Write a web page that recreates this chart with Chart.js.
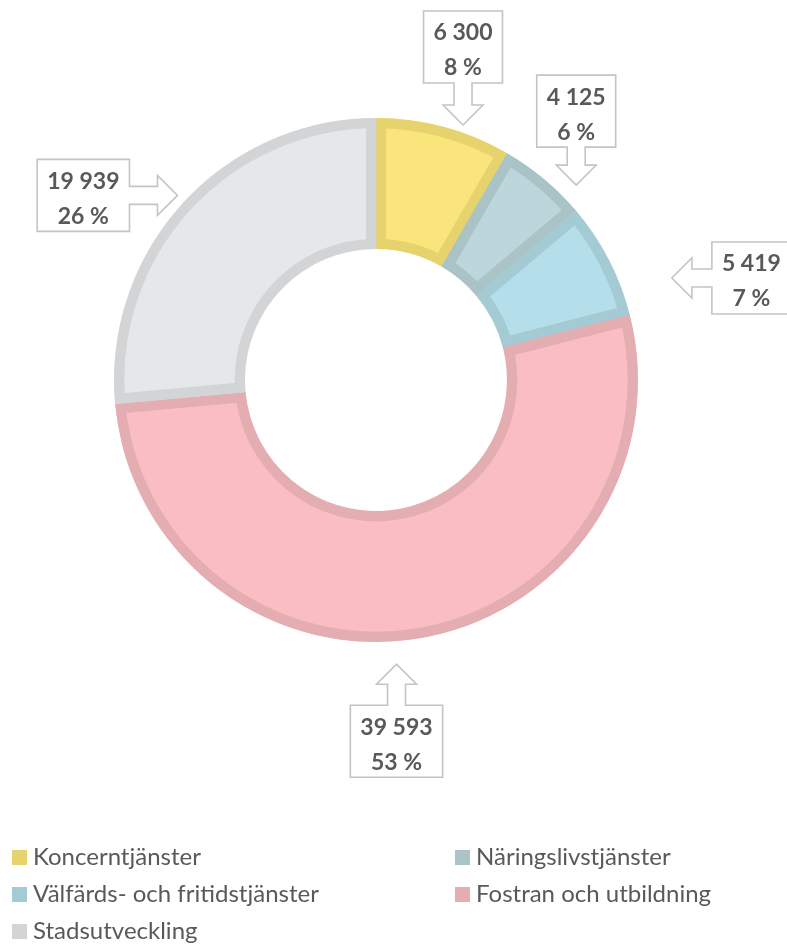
<!DOCTYPE html>
<html><head><meta charset="utf-8">
<script src="https://cdn.jsdelivr.net/npm/chart.js@4.4.1/dist/chart.umd.min.js"></script>
<style>html,body{margin:0;padding:0;background:#fff;overflow:hidden}canvas{display:block}</style>
</head><body>
<canvas id="c" width="787" height="946"></canvas>
<script>
// ---- data ----
const categories = ['Koncerntjänster', 'Näringslivstjänster', 'Välfärds- och fritidstjänster', 'Fostran och utbildning', 'Stadsutveckling'];
const values = [6300, 4125, 5419, 39593, 19939];
const percentLabels = ['8 %', '6 %', '7 %', '53 %', '26 %'];

// ---- styles ----
const fillColors = ['#FAE47C', '#BCD6DB', '#B4DEE9', '#F9BDC2', '#E6E7E9'];
const edgeColors = ['#E6D36E', '#A9C3C7', '#A4CAD3', '#E4ADB2', '#D3D4D6'];
const textColor = '#595959';
// callout placement: arrow direction, nudge of tip from slice mid-point on outer edge, arrow length
const calloutPlacement = [
  {dir: 'down', dx: 19, dy: -2, len: 42},
  {dir: 'down', dx: 32, dy: 6, len: 38},
  {dir: 'left', dx: 63, dy: 18, len: 40},
  {dir: 'up', dx: -24, dy: 26, len: 41},
  {dir: 'right', dx: -5, dy: -8, len: 48}
];

function fmt(v) { return String(v).replace(/\B(?=(\d{3})+(?!\d))/g, ' '); }

const calloutPlugin = {
  id: 'callouts',
  afterDatasetsDraw(chart) {
    const ctx = chart.ctx;
    const meta = chart.getDatasetMeta(0);
    ctx.save();
    ctx.font = 'bold 23px Lato';
    meta.data.forEach((arc, i) => {
      const p = calloutPlacement[i];
      const {x, y, startAngle, endAngle, outerRadius} = arc.getProps(['x', 'y', 'startAngle', 'endAngle', 'outerRadius'], true);
      const mid = (startAngle + endAngle) / 2;
      const tx = x + Math.cos(mid) * outerRadius + p.dx;
      const ty = y + Math.sin(mid) * outerRadius + p.dy;
      const lines = [fmt(values[i]), percentLabels[i]];
      const tw = Math.max(...lines.map(l => ctx.measureText(l).width));
      const bw = tw + 20, bh = 72;
      const L = p.len, hl = 20, hw = 20, sw = 9;
      let bx, by, pts;
      if (p.dir === 'down') {
        bx = tx - bw / 2; by = ty - L - bh;
        pts = [[bx, by], [bx + bw, by], [bx + bw, by + bh], [tx + sw, by + bh], [tx + sw, ty - hl], [tx + hw, ty - hl], [tx, ty], [tx - hw, ty - hl], [tx - sw, ty - hl], [tx - sw, by + bh], [bx, by + bh]];
      } else if (p.dir === 'up') {
        bx = tx - bw / 2; by = ty + L;
        pts = [[bx, by + bh], [bx, by], [tx - sw, by], [tx - sw, ty + hl], [tx - hw, ty + hl], [tx, ty], [tx + hw, ty + hl], [tx + sw, ty + hl], [tx + sw, by], [bx + bw, by], [bx + bw, by + bh]];
      } else if (p.dir === 'left') {
        bx = tx + L; by = ty - bh / 2;
        pts = [[bx, by], [bx + bw, by], [bx + bw, by + bh], [bx, by + bh], [bx, ty + sw], [tx + hl, ty + sw], [tx + hl, ty + hw], [tx, ty], [tx + hl, ty - hw], [tx + hl, ty - sw], [bx, ty - sw]];
      } else {
        bx = tx - L - bw; by = ty - bh / 2;
        pts = [[bx, by], [bx + bw, by], [bx + bw, ty - sw], [tx - hl, ty - sw], [tx - hl, ty - hw], [tx, ty], [tx - hl, ty + hw], [tx - hl, ty + sw], [bx + bw, ty + sw], [bx + bw, by + bh], [bx, by + bh]];
      }
      ctx.beginPath();
      pts.forEach((pt, k) => k ? ctx.lineTo(pt[0], pt[1]) : ctx.moveTo(pt[0], pt[1]));
      ctx.closePath();
      ctx.fillStyle = '#FFFFFF';
      ctx.fill();
      ctx.lineWidth = 1.6;
      ctx.strokeStyle = '#C4C4C4';
      ctx.stroke();
      ctx.fillStyle = textColor;
      ctx.textAlign = 'center';
      ctx.textBaseline = 'middle';
      ctx.fillText(lines[0], bx + bw / 2, by + 22);
      ctx.fillText(lines[1], bx + bw / 2, by + 57);
    });
    ctx.restore();
  }
};

const legendPlugin = {
  id: 'gridLegend',
  afterDraw(chart) {
    const ctx = chart.ctx;
    const colX = [12, 455];
    const rowY = [857, 894, 931];
    ctx.save();
    ctx.font = '24px Lato';
    ctx.textBaseline = 'middle';
    ctx.textAlign = 'left';
    chart.data.labels.forEach((lab, i) => {
      const cx = colX[i % 2], cy = rowY[Math.floor(i / 2)];
      ctx.fillStyle = edgeColors[i];
      ctx.fillRect(cx, cy - 7, 15, 15);
      ctx.fillStyle = textColor;
      ctx.fillText(lab, cx + 21, cy);
    });
    ctx.restore();
  }
};

new Chart(document.getElementById('c'), {
  type: 'doughnut',
  data: {
    labels: categories,
    datasets: [{
      data: values,
      backgroundColor: fillColors,
      borderColor: edgeColors,
      borderWidth: 10,
      borderAlign: 'inner',
      hoverOffset: 0
    }]
  },
  options: {
    responsive: false,
    animation: false,
    devicePixelRatio: 1,
    cutout: '50%',
    layout: {padding: {left: 114, right: 149, top: 118, bottom: 304}},
    plugins: {legend: {display: false}, tooltip: {enabled: false}}
  },
  plugins: [calloutPlugin, legendPlugin]
});
</script>
</body></html>
